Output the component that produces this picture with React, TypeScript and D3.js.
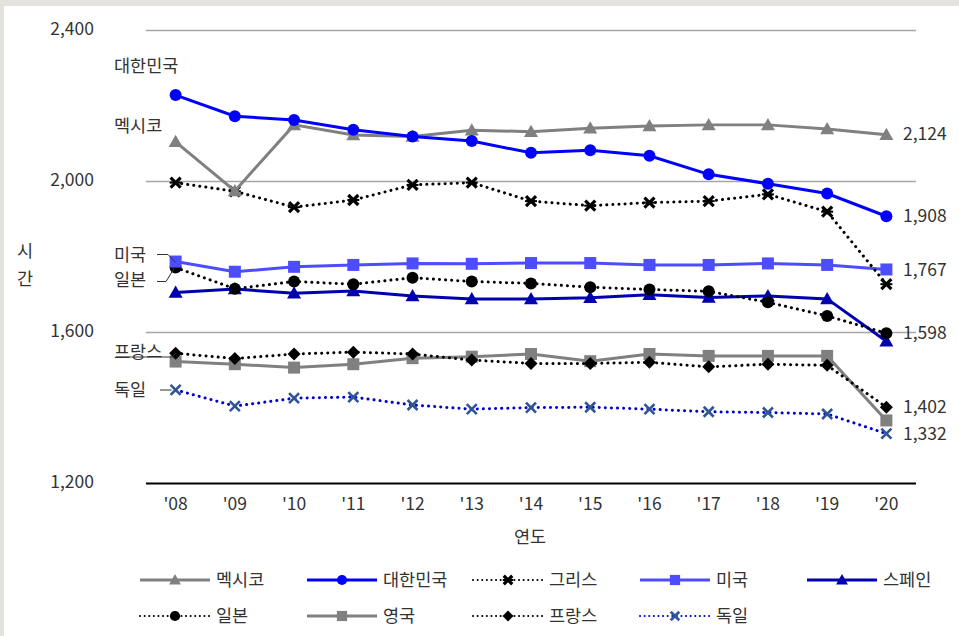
import React from "react";
import * as d3 from "d3";

const years = ["'08", "'09", "'10", "'11", "'12", "'13", "'14", "'15", "'16", "'17", "'18", "'19", "'20"];
const yTicks = [1200, 1600, 2000, 2400];

const mexico = [2105, 1975, 2150, 2123, 2119, 2136, 2132, 2141, 2147, 2150, 2150, 2139, 2124];
const korea = [2229, 2173, 2163, 2137, 2119, 2107, 2076, 2083, 2068, 2019, 1994, 1968, 1908];
const greece = [1997, 1974, 1932, 1951, 1991, 1997, 1948, 1936, 1944, 1948, 1966, 1920, 1728];
const usa = [1788, 1761, 1774, 1779, 1783, 1782, 1784, 1784, 1779, 1779, 1783, 1779, 1767];
const spain = [1706, 1715, 1704, 1710, 1697, 1689, 1689, 1692, 1700, 1693, 1697, 1689, 1577];
const japan = [1772, 1716, 1735, 1728, 1745, 1735, 1730, 1720, 1714, 1709, 1680, 1644, 1598];
const uk = [1523, 1516, 1507, 1516, 1532, 1536, 1543, 1524, 1543, 1538, 1538, 1538, 1367];
const france = [1545, 1531, 1543, 1548, 1543, 1527, 1518, 1518, 1521, 1509, 1516, 1513, 1402];
const germany = [1448, 1405, 1426, 1429, 1408, 1397, 1401, 1402, 1397, 1390, 1388, 1384, 1332];

const endLabels = ["2,124", "1,908", "1,767", "1,598", "1,402", "1,332"];
const endLabelValues = [2124, 1908, 1767, 1598, 1402, 1332];

type Marker = "triangle" | "circle" | "xbold" | "square" | "diamond" | "x";
interface Series {
  name: string;
  values: number[];
  color: string;
  markerColor: string;
  dotted: boolean;
  marker: Marker;
}

const series: Series[] = [
  { name: "멕시코", values: mexico, color: "#808080", markerColor: "#808080", dotted: false, marker: "triangle" },
  { name: "대한민국", values: korea, color: "#0000ff", markerColor: "#0000ff", dotted: false, marker: "circle" },
  { name: "그리스", values: greece, color: "#000000", markerColor: "#000000", dotted: true, marker: "xbold" },
  { name: "미국", values: usa, color: "#4d4dff", markerColor: "#4d4dff", dotted: false, marker: "square" },
  { name: "스페인", values: spain, color: "#0000b0", markerColor: "#0000b0", dotted: false, marker: "triangle" },
  { name: "일본", values: japan, color: "#000000", markerColor: "#000000", dotted: true, marker: "circle" },
  { name: "영국", values: uk, color: "#808080", markerColor: "#808080", dotted: false, marker: "square" },
  { name: "프랑스", values: france, color: "#000000", markerColor: "#000000", dotted: true, marker: "diamond" },
  { name: "독일", values: germany, color: "#0000cc", markerColor: "#2f5597", dotted: true, marker: "x" },
];

// draw order: back to front
const drawOrder = ["독일", "영국", "프랑스", "스페인", "일본", "미국", "그리스", "멕시코", "대한민국"];

const W = 959;
const H = 636;
const plotLeft = 146;
const plotRight = 916;
const FONT = "'Noto Sans CJK KR', 'Noto Sans', sans-serif";
const TXT = "#333333";
const FS = 17.5;

const x = d3.scaleBand<string>().domain(years).range([plotLeft, plotRight]);
const y = d3.scaleLinear().domain([1200, 2400]).range([483.5, 30.5]);
const cx = (i: number) => (x(years[i]) as number) + x.bandwidth() / 2;

function MarkerShape({ m, px, py, color, legend }: { m: Marker; px: number; py: number; color: string; legend?: boolean }) {
  const s = legend ? 0.85 : 1;
  switch (m) {
    case "triangle": {
      const r = 7 * s;
      return <path d={`M${px},${py - r}L${px + r},${py + r * 0.75}L${px - r},${py + r * 0.75}Z`} fill={color} />;
    }
    case "circle":
      return <circle cx={px} cy={py} r={6 * s} fill={color} />;
    case "square": {
      const r = 6 * s;
      return <rect x={px - r} y={py - r} width={2 * r} height={2 * r} fill={color} />;
    }
    case "diamond": {
      const r = 6.5 * s;
      return <path d={`M${px},${py - r}L${px + r},${py}L${px},${py + r}L${px - r},${py}Z`} fill={color} />;
    }
    case "xbold": {
      const r = 5 * s;
      return (
        <g stroke={color} strokeWidth={3.2} strokeLinecap="butt">
          <line x1={px - r} y1={py - r} x2={px + r} y2={py + r} />
          <line x1={px - r} y1={py + r} x2={px + r} y2={py - r} />
          <line x1={px - r - 1} y1={py} x2={px + r + 1} y2={py} strokeWidth={2} />
        </g>
      );
    }
    case "x": {
      const r = 5 * s;
      return (
        <g stroke={color} strokeWidth={2.6}>
          <line x1={px - r} y1={py - r} x2={px + r} y2={py + r} />
          <line x1={px - r} y1={py + r} x2={px + r} y2={py - r} />
        </g>
      );
    }
  }
}

const line = d3
  .line<number>()
  .x((_, i) => cx(i))
  .y((v) => y(v));

export default function App() {
  const ordered = drawOrder.map((n) => series.find((s) => s.name === n)!);
  const legendCols = [140, 307, 473, 640, 807];
  const legendRows = [580, 616];

  return (
    <svg width={W} height={H} style={{ position: "absolute", left: 0, top: 0 }} fontFamily={FONT}>
      <rect x={0} y={0} width={W} height={H} fill="#e3e2dd" />
      <rect x={4} y={6} width={W - 4} height={H - 6} fill="#ffffff" />

      {/* grid */}
      {yTicks.slice(1).map((t) => (
        <line key={t} x1={plotLeft} x2={plotRight} y1={y(t)} y2={y(t)} stroke="#a6a6a6" strokeWidth={1.3} />
      ))}
      <line x1={plotLeft} x2={plotRight} y1={y(1200)} y2={y(1200)} stroke="#000" strokeWidth={2} />

      {/* y tick labels */}
      {yTicks.map((t) => (
        <text key={t} x={94} y={y(t) - 2} dy="0.35em" textAnchor="end" fontSize={FS} fill={TXT}>
          {d3.format(",")(t)}
        </text>
      ))}
      <text x={25} y={257} textAnchor="middle" fontSize={FS} fill={TXT}>시</text>
      <text x={25} y={285} textAnchor="middle" fontSize={FS} fill={TXT}>간</text>

      {/* x labels */}
      {years.map((yr, i) => (
        <text key={yr} x={cx(i)} y={504} dy="0.35em" textAnchor="middle" fontSize={FS} fill={TXT}>
          {yr}
        </text>
      ))}
      <text x={530} y={537} dy="0.35em" textAnchor="middle" fontSize={FS} fill={TXT}>연도</text>

      {/* series */}
      {ordered.map((s) => (
        <g key={s.name}>
          <path
            d={line(s.values) || ""}
            fill="none"
            stroke={s.color}
            strokeWidth={3}
            strokeDasharray={s.dotted ? "0.1 6" : undefined}
            strokeLinecap={s.dotted ? "round" : "butt"}
          />
          {s.values.map((v, i) => (
            <MarkerShape key={i} m={s.marker} px={cx(i)} py={y(v)} color={s.markerColor} />
          ))}
        </g>
      ))}

      {/* left labels */}
      <text x={114} y={66} dy="0.35em" fontSize={FS} fill={TXT}>대한민국</text>
      <text x={114} y={126} dy="0.35em" fontSize={FS} fill={TXT}>멕시코</text>
      <text x={114} y={255} dy="0.35em" fontSize={FS} fill={TXT}>미국</text>
      <text x={114} y={280} dy="0.35em" fontSize={FS} fill={TXT}>일본</text>
      <text x={114} y={352} dy="0.35em" fontSize={FS} fill={TXT}>프랑스</text>
      <text x={114} y={390} dy="0.35em" fontSize={FS} fill={TXT}>독일</text>
      <path d={`M157,254.5H168L${cx(0)},${y(usa[0]) + 1}`} fill="none" stroke="#333" strokeWidth={1} />
      <path d={`M157,281.5H166L${cx(0) - 1},${y(japan[0])}`} fill="none" stroke="#333" strokeWidth={1} />
      <path d={`M116,357H${cx(0) - 3}L${cx(0)},${y(france[0])}`} fill="none" stroke="#333" strokeWidth={1} />
      <path d={`M160,390H${cx(0) - 4}`} fill="none" stroke="#333" strokeWidth={1} />

      {/* right end labels */}
      {endLabels.map((l, i) => (
        <text key={l} x={903} y={i === 0 ? 134 : y(endLabelValues[i])} dy="0.35em" fontSize={FS} fill={TXT}>
          {l}
        </text>
      ))}

      {/* legend */}
      {series.map((s, i) => {
        const col = i < 5 ? i : i - 5;
        const row = i < 5 ? 0 : 1;
        const lx = legendCols[col];
        const ly = legendRows[row];
        return (
          <g key={s.name}>
            <line
              x1={lx}
              x2={lx + 70}
              y1={ly}
              y2={ly}
              stroke={s.color}
              strokeWidth={s.dotted ? 2 : 3}
              strokeDasharray={s.dotted ? "0.1 4.5" : undefined}
              strokeLinecap={s.dotted ? "round" : "butt"}
            />
            <MarkerShape m={s.marker} px={lx + 35} py={ly} color={s.markerColor} legend />
            <text x={lx + 76} y={ly} dy="0.35em" fontSize={FS} fill={TXT}>
              {s.name}
            </text>
          </g>
        );
      })}
    </svg>
  );
}
